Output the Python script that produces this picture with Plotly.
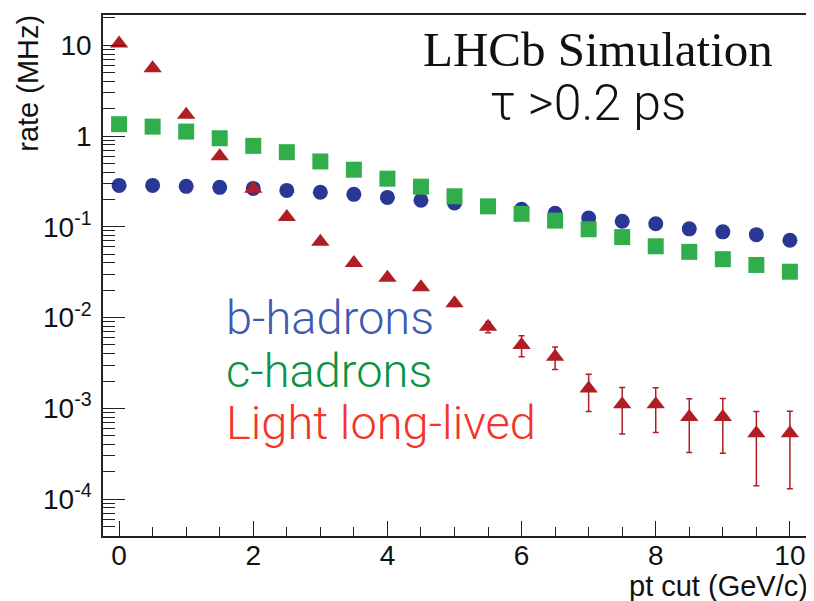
import plotly.graph_objects as go

pt_cut = [0, 0.5, 1, 1.5, 2, 2.5, 3, 3.5, 4, 4.5, 5, 5.5, 6, 6.5, 7, 7.5, 8, 8.5, 9, 9.5, 10]

b_hadrons = [0.286, 0.286, 0.279, 0.272, 0.265, 0.252, 0.240, 0.228, 0.211, 0.196, 0.183,
             0.168, 0.156, 0.141, 0.125, 0.115, 0.108, 0.095, 0.088, 0.082, 0.071]

c_hadrons = [1.35, 1.27, 1.12, 0.946, 0.780, 0.664, 0.525, 0.426, 0.339, 0.277, 0.217,
             0.168, 0.139, 0.117, 0.094, 0.077, 0.061, 0.053, 0.044, 0.038, 0.032]

light_ll = [10.5, 5.6, 1.72, 0.60, 0.262, 0.128, 0.0686, 0.0398, 0.0275, 0.0216, 0.0144,
            0.0079, 0.0050, 0.0037, 0.00165, 0.00111, 0.00111, 0.00080, 0.00080, 0.00053, 0.00053]

light_ll_err = [0.3, 0.2, 0.06, 0.03, 0.012, 0.006, 0.003, 0.002, 0.0015, 0.0012, 0.0012,
                0.0011, 0.0013, 0.00103, 0.00073, 0.00059, 0.00057, 0.000475, 0.00048, 0.00039, 0.0004]

y_tickvals = [1e-4, 1e-3, 1e-2, 1e-1, 1, 10]
y_ticktext = ["10<sup>-4</sup>", "10<sup>-3</sup>", "10<sup>-2</sup>", "10<sup>-1</sup>", "1", "10"]
x_tickvals = [0, 2, 4, 6, 8, 10]
x_ticktext = ["0", "2", "4", "6", "8", "10"]

y_minor = [m * 10.0 ** e for e in range(-5, 2) for m in range(2, 10)]

BLUE = "#2a3895"
GREEN = "#2fae4b"
RED = "#b01e24"

fig = go.Figure()
fig.add_trace(go.Scatter(x=pt_cut, y=b_hadrons, mode="markers",
                         marker=dict(symbol="circle", size=15, color=BLUE, line=dict(width=0)),
                         name="b-hadrons"))
fig.add_trace(go.Scatter(x=pt_cut, y=c_hadrons, mode="markers",
                         marker=dict(symbol="square", size=16, color=GREEN, line=dict(width=0)),
                         name="c-hadrons"))
fig.add_trace(go.Scatter(x=pt_cut, y=light_ll, mode="markers",
                         marker=dict(symbol="triangle-up", size=16, color=RED, line=dict(width=0)),
                         error_y=dict(type="data", array=light_ll_err, color=RED, thickness=1.5, width=3),
                         name="Light long-lived"))

axis_font = dict(family="Liberation Sans, Arial, sans-serif", size=28, color="#111")

# page body has an 8px default margin, so the figure is sized to fit the 814x601 window
fig.update_layout(
    width=806, height=593,
    margin=dict(l=95, r=8, t=5, b=65),
    paper_bgcolor="white", plot_bgcolor="white",
    showlegend=False,
    font=axis_font,
    xaxis=dict(range=[-0.24, 10.24], showgrid=False, zeroline=False,
               showline=True, mirror=True, linecolor="#222", linewidth=1.5,
               ticks="inside", ticklen=15, tickwidth=1.3, tickcolor="#222",
               tickvals=x_tickvals, ticktext=x_ticktext, tickfont=axis_font,
               ticklabelstandoff=-6,
               minor=dict(ticks="inside", ticklen=9, tickwidth=1.3, tickcolor="#222", dtick=0.5, showgrid=False)),
    yaxis=dict(type="log", range=[-4.407, 1.334], showgrid=False, zeroline=False,
               showline=True, mirror=True, linecolor="#222", linewidth=1.5,
               ticks="inside", ticklen=22, tickwidth=1.3, tickcolor="#222",
               tickvals=y_tickvals, ticktext=y_ticktext, tickfont=axis_font,
               ticklabelstandoff=4,
               minor=dict(ticks="inside", ticklen=12, tickwidth=1.3, tickcolor="#222",
                          tickvals=y_minor, showgrid=False)),
)

LIGHT = "Roboto Light, Roboto, sans-serif"
ann = []
ann.append(dict(text="rate (MHz)", x=-0.106, y=0.869, xref="paper", yref="paper",
                textangle=-90, showarrow=False, xanchor="center", yanchor="middle",
                font=dict(family="Liberation Sans, Arial, sans-serif", size=29, color="#111")))
ann.append(dict(text="pt cut (GeV/c)", x=1.006, y=-0.0956, xref="paper", yref="paper",
                showarrow=False, xanchor="right", yanchor="middle",
                font=dict(family="Liberation Sans, Arial, sans-serif", size=29, color="#111")))
ann.append(dict(text="LHCb Simulation", x=(598 - 103) / 703, y=0.934, xref="paper", yref="paper",
                showarrow=False, xanchor="center", yanchor="middle",
                font=dict(family="Liberation Serif, Times New Roman, serif", size=49, color="#111")))
ann.append(dict(text="τ >0.2 ps", x=(588 - 103) / 703, y=0.832, xref="paper", yref="paper",
                showarrow=False, xanchor="center", yanchor="middle",
                font=dict(family=LIGHT, size=50, color="#111", weight=300)))
leg_font = dict(family=LIGHT, size=47, weight=300)
for txt, col, yp in [("b-hadrons", "#3d5bb0", 0.4187),
                     ("c-hadrons", "#0a9345", 0.3174),
                     ("Light long-lived", "#f2352a", 0.218)]:
    ann.append(dict(text=txt, x=(224 - 103) / 703, y=yp, xref="paper", yref="paper",
                    showarrow=False, xanchor="left", yanchor="middle",
                    font=dict(leg_font, color=col)))
fig.update_layout(annotations=ann)

fig.write_html("out.html")
